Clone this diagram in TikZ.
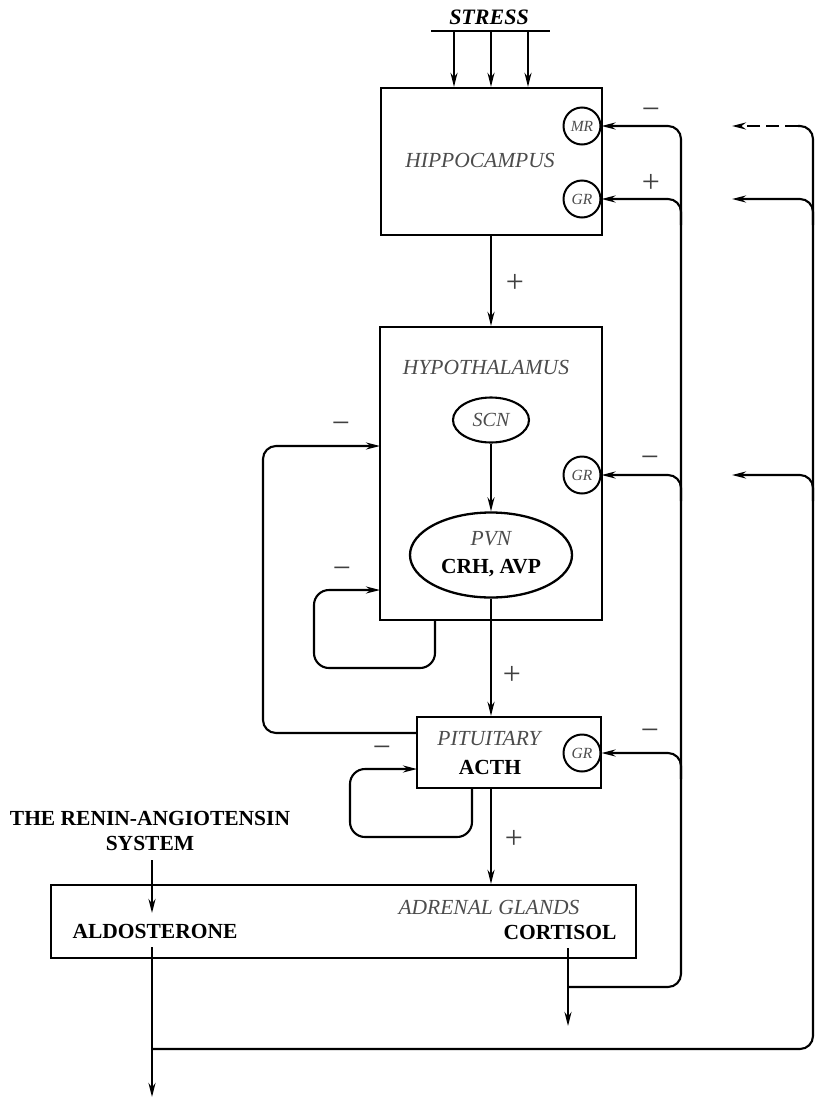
\documentclass[tikz,border=0pt]{standalone}
\usepackage{fontspec}
\setmainfont{Liberation Serif}
\usetikzlibrary{arrows.meta,shapes.geometric}
\begin{document}
\begin{tikzpicture}[x=1pt,y=-1pt,
 box/.style={draw,line width=2.3pt,inner sep=0,anchor=center},
 rec/.style={draw,circle,line width=2pt,minimum size=37pt,inner sep=0,font=\fontsize{15.5}{15.5}\selectfont\itshape,text=black!70},
 lab/.style={inner sep=0,font=\fontsize{21.5}{21.5}\selectfont\itshape,text=black!70},
 bl/.style={inner sep=0,font=\fontsize{21.5}{21.5}\selectfont\bfseries},
 sg/.style={inner sep=0,font=\fontsize{32}{32}\selectfont,text=black!75},
 arr/.style={line width=2.1pt,-{Stealth[length=14pt,width=7pt]}},
 ln/.style={line width=2.1pt},
 rc/.style={rounded corners=13pt}
]
\useasboundingbox (0,0) rectangle (816,1098);

% STRESS
\node[inner sep=0,font=\fontsize{22}{22}\selectfont\bfseries\itshape] (stress) at (489,17) {STRESS};
\coordinate (barL) at (431,31);
\coordinate (barR) at (550,31);
\draw[line width=2.4pt] (barL) -- (barR);

% boxes
\node[box,minimum width=221pt,minimum height=147pt] (hip) at (491.5,161.5) {};
\node[lab] (hiptxt) at (480,160) {HIPPOCAMPUS};
\node[rec] (mr) at (582,126) {MR};
\node[rec] (gr1) at (582,199) {GR};

\coordinate (s1) at (454,31);
\coordinate (s2) at (491,31);
\coordinate (s3) at (528,31);
\draw[arr] (s1) -- (s1 |- hip.north);
\draw[arr] (s2) -- (s2 |- hip.north);
\draw[arr] (s3) -- (s3 |- hip.north);

\node[box,minimum width=222pt,minimum height=293pt] (hyp) at (491,473.5) {};
\node[lab] (hyptxt) at (486,367) {HYPOTHALAMUS};
\node[draw,ellipse,line width=2.1pt,minimum width=76pt,minimum height=45pt,inner sep=0,font=\fontsize{20}{20}\selectfont\itshape,text=black!70] (scn) at (491,420) {SCN};
\node[draw,ellipse,line width=2.3pt,minimum width=162pt,minimum height=85pt,inner sep=0] (pvn) at (491,555) {};
\node[lab] (pvntxt) at (491,539) {PVN};
\node[bl] (crh) at (491,568) {CRH, AVP};
\node[rec] (gr2) at (582,475) {GR};

\node[box,minimum width=184pt,minimum height=71pt] (pit) at (509,752.5) {};
\node[lab] (pittxt) at (489,738) {PITUITARY};
\node[bl] (acth) at (490,767) {ACTH};
\node[rec] (gr3) at (582,753) {GR};

\node[box,minimum width=585pt,minimum height=73pt] (adr) at (343.5,921.5) {};
\node[lab] (adrtxt) at (489,907) {ADRENAL GLANDS};
\node[bl] (cort) at (560,932) {CORTISOL};
\node[bl] (aldo) at (155,931) {ALDOSTERONE};
\node[bl,align=center] (ras) at (150,831) {THE RENIN-ANGIOTENSIN\\[3pt]SYSTEM};

% main chain
\draw[arr] (hip.south -| s2) -- (s2 |- hyp.north);
\draw[arr] (pvn.south) -- (pvn.south |- pit.north);
\draw[arr] (scn.south) -- (pvn.north -| scn.south);
\coordinate (pitout) at (491,788);
\draw[arr] (pitout) -- (pitout |- adr.north);

% renin / aldosterone
\coordinate (ra) at (152,860);
\coordinate (raend) at (152,913);
\draw[arr] (ra) -- (raend);
\coordinate (al) at (152,947);
\coordinate (albot) at (152,1097);
\draw[arr] (al) -- (albot);

% cortisol
\coordinate (co) at (568,948);
\coordinate (cobot) at (568,1026);
\draw[arr] (co) -- (cobot);
\coordinate (cj) at (568,987);
\draw[arr,rc] (cj) -- (681,987) -- (681,126) -- (mr.east);
\draw[arr,rc] (681,225) -- (681,199) -- (gr1.east);
\draw[arr,rc] (681,501) -- (681,475) -- (gr2.east);
\draw[arr,rc] (681,779) -- (681,753) -- (gr3.east);

% outer loop
\coordinate (oj) at (152,1049);
\coordinate (d0) at (798,126);
\coordinate (t1) at (732,126);
\coordinate (t2) at (732,199);
\coordinate (t3) at (732,475);
\draw[ln,rc] (oj) -- (813,1049) -- (813,126) -- (d0);
\draw[arr,dash pattern=on 13pt off 6pt] (d0) -- (t1);
\draw[arr,rc] (813,225) -- (813,199) -- (t2);
\draw[arr,rc] (813,501) -- (813,475) -- (t3);

% left loops
\coordinate (bigs) at (417,733);
\coordinate (bige) at (380,446);
\draw[arr,rc] (bigs) -- (263,733) -- (263,446) -- (bige);
\coordinate (hls) at (435,620);
\coordinate (hle) at (380,590);
\draw[arr,rounded corners=15pt] (hls) -- (435,668) -- (314,668) -- (314,590) -- (hle);
\coordinate (pls) at (472,788);
\coordinate (ple) at (417,769);
\draw[arr,rounded corners=15pt] (pls) -- (472,837) -- (350,837) -- (350,769) -- (ple);

% signs
\node[sg] (p1) at (515,283) {+};
\node[sg] (p2) at (512,675) {+};
\node[sg] (p3) at (514,839) {+};
\node[sg] (m1) at (651,114) {−};
\node[sg] (p4) at (651,183) {+};
\node[sg] (m2) at (650,462) {−};
\node[sg] (m3) at (650,735) {−};
\node[sg] (m4) at (341,428) {−};
\node[sg] (m5) at (342,573) {−};
\node[sg] (m6) at (382,752) {−};
\end{tikzpicture}
\end{document}
